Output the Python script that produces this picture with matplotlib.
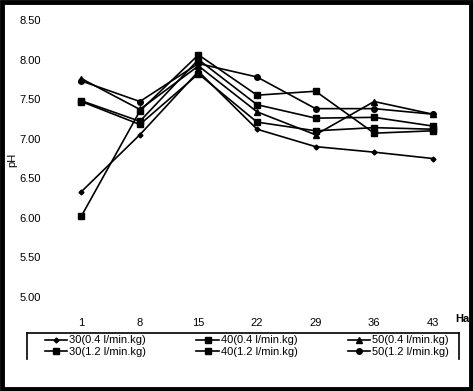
import matplotlib
matplotlib.use("Agg")
import matplotlib.pyplot as plt
from matplotlib.lines import Line2D
from matplotlib.patches import Rectangle

days = ["1", "8", "15", "22", "29", "36", "43"]
yticks = [5.00, 5.50, 6.00, 6.50, 7.00, 7.50, 8.00, 8.50]

s30_04 = [6.33, 7.05, 7.85, 7.12, 6.90, 6.83, 6.75]
s40_04 = [7.48, 7.22, 8.00, 7.43, 7.26, 7.27, 7.16]
s50_04 = [7.76, 7.37, 7.92, 7.34, 7.05, 7.47, 7.31]
s30_12 = [6.02, 7.35, 8.06, 7.55, 7.60, 7.07, 7.10]
s40_12 = [7.47, 7.18, 7.82, 7.21, 7.10, 7.14, 7.12]
s50_12 = [7.73, 7.47, 7.95, 7.78, 7.38, 7.38, 7.31]

labels = ["30(0.4 l/min.kg)", "40(0.4 l/min.kg)", "50(0.4 l/min.kg)",
          "30(1.2 l/min.kg)", "40(1.2 l/min.kg)", "50(1.2 l/min.kg)"]
series = [s30_04, s40_04, s50_04, s30_12, s40_12, s50_12]
markers = ["D", "s", "^", "s", "s", "o"]
msizes = [2.5, 4, 4, 5, 4, 4]

W, H = 473, 391
fig = plt.figure(figsize=(W / 100, H / 100), dpi=100)
plt.rcParams['font.family'] = ['Liberation Sans', 'DejaVu Sans']

left, right, top, bottom = 52, 462, 20, 297
ax = fig.add_axes([left / W, 1 - bottom / H, (right - left) / W, (bottom - top) / H])

x = list(range(len(days)))
handles = []
for vals, lab, m, ms in zip(series, labels, markers, msizes):
    h, = ax.plot(x, vals, color="black", lw=1.2, marker=m, markersize=ms,
                 markerfacecolor="black", markeredgecolor="black", label=lab)
    handles.append(h)

ax.set_xlim(-0.5, 6.5)
ax.set_ylim(5.0, 8.5)
ax.set_xticks(x)
ax.set_xticklabels(days, fontsize=8)
ax.set_yticks(yticks)
ax.set_yticklabels([f"{v:.2f}" for v in yticks], fontsize=8)
ax.tick_params(length=0)
ax.tick_params(axis='x', pad=15)
ax.tick_params(axis='y', pad=8)
for sp in ax.spines.values():
    sp.set_visible(False)

fig.text(12 / W, 1 - 160 / H, "pH", rotation=90, fontsize=8, ha="center", va="center")
fig.text(455 / W, 1 - 319 / H, "Har", fontsize=8, ha="left", va="center", fontweight="bold")

# legend (column-first order)
order = [0, 3, 1, 4, 2, 5]
leg = fig.legend([handles[i] for i in order], [labels[i] for i in order],
                 ncol=3, frameon=False, fontsize=8,
                 loc="center", bbox_to_anchor=(247 / W, 1 - 346 / H),
                 handlelength=2.0, handletextpad=0.2, columnspacing=4.5,
                 labelspacing=0.1, borderpad=0.2)

# legend box (top + sides)
for (x0, y0, x1, y1) in [(27, 333, 459, 333), (27, 333, 27, 359), (459, 333, 459, 359)]:
    fig.add_artist(Line2D([x0 / W, x1 / W], [1 - y0 / H, 1 - y1 / H],
                          color="black", lw=1.2, transform=fig.transFigure))

# outer frame
fig.add_artist(Rectangle((0.004, 0.005), 0.992, 0.99, transform=fig.transFigure,
                         fill=False, edgecolor="black", lw=3.5))

fig.savefig("out.png", dpi=100)
